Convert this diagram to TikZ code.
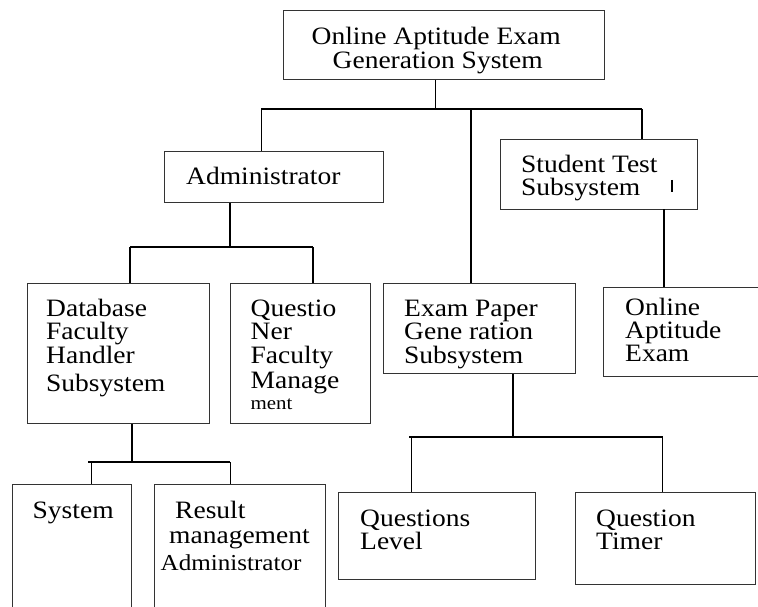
\documentclass[tikz,border=0pt]{standalone}
\usepackage{fontspec}
\setmainfont{Liberation Serif}[FakeStretch=1.1]
\newcommand{\row}[1]{\hbox{#1}}

\begin{document}
\begin{tikzpicture}[x=1pt,y=-1pt,
		box/.style={draw=black!80,line width=1pt,inner sep=0pt,anchor=north west},
		txt/.style={inner sep=0pt,anchor=base west,font={\fontsize{25}{23.2}\selectfont\lineskiplimit=-100pt}},
		bus/.style={line width=2pt},
		link/.style={line width=1pt}]

		\useasboundingbox (0,0) rectangle (758,607);

		% boxes
		\node[box,minimum width=321pt,minimum height=69pt] (sys) at (283,10) {};
		\node[box,minimum width=219pt,minimum height=51pt] (admin) at (164,151) {};
		\node[box,minimum width=197pt,minimum height=70pt] (student) at (500,139) {};
		\node[box,minimum width=182pt,minimum height=140pt] (db) at (27,283) {};
		\node[box,minimum width=140pt,minimum height=140pt] (qf) at (230,283) {};
		\node[box,minimum width=192pt,minimum height=90pt] (exam) at (383,283) {};
		\node[box,minimum width=157pt,minimum height=89pt] (online) at (603,287) {};
		\node[box,minimum width=119pt,minimum height=140pt] (system) at (12,484) {};
		\node[box,minimum width=171pt,minimum height=140pt] (result) at (154,484) {};
		\node[box,minimum width=197pt,minimum height=87pt] (qlevel) at (338,492) {};
		\node[box,minimum width=180pt,minimum height=92pt] (qtimer) at (575,492) {};

		% texts
		\node[txt] (sys-t) at (311.5,45) {\vtop{\row{Online Aptitude Exam}\row{\hskip21pt Generation System}}};
		\node[txt] (admin-t) at (186,185) {Administrator};
		\node[txt] (student-t) at (521,172) {\vtop{\row{Student Test}\row{Subsystem}}};
		\node[txt] (db-t) at (46,316.7) {\vtop{\row{Database}\row{Faculty}\row{Handler}\vskip5.5pt\row{Subsystem}}};
		\node[txt] (qf-t) at (250.5,316.7) {\vtop{\row{Questio}\row{Ner}\row{Faculty}\vskip2.3pt\row{Manage}\vskip-2.7pt\row{\fontsize{19}{19}\selectfont ment}}};
		\node[txt] (exam-t) at (404,316.7) {\vtop{\row{Exam Paper}\row{Gene ration}\row{Subsystem}}};
		\node[txt] (online-t) at (625,315.5) {\vtop{\row{Online}\row{Aptitude}\row{Exam}}};
		\node[txt] (system-t) at (32.5,518) {System};
		\node[txt] (result-t) at (160.5,518) {\vtop{\row{\hskip14.5pt Result}\vskip2pt\row{\hskip8.5pt management}\vskip4pt\row{\fontsize{22.8}{22.8}\selectfont Administrator}}};
		\node[txt] (qlevel-t) at (360,526.7) {\vtop{\row{Questions}\row{Level}}};
		\node[txt] (qtimer-t) at (596,526.7) {\vtop{\row{Question}\row{Timer}}};

		% first level
		\coordinate (top-hub) at (435,109);
		\coordinate (top-l) at (261,109);
		\coordinate (top-m) at (471,109);
		\coordinate (top-r) at (642,109);
		\draw[link] (sys.south -| top-hub) -- (top-hub);
		\draw[bus] (top-l) -- (top-r);
		\draw[link] (top-l) -- (top-l |- admin.north);
		\draw[bus] (top-m) -- (top-m |- exam.north);
		\draw[bus] (top-r) -- (top-r |- student.north);

		% administrator
		\coordinate (adm-m) at (230,247);
		\coordinate (adm-l) at (130,247);
		\coordinate (adm-r) at (313,247);
		\draw[bus] (admin.south -| adm-m) -- (adm-m);
		\draw[bus] (adm-l) -- (adm-r);
		\draw[bus] (adm-l) -- (adm-l |- db.north);
		\draw[bus] (adm-r) -- (adm-r |- qf.north);

		% student test
		\coordinate (stu-m) at (664,209);
		\draw[bus] (stu-m) -- (stu-m |- online.north);
		\draw[bus] (672,180) -- (672,192);

		% database handler
		\coordinate (db-m) at (132,462);
		\coordinate (db-l) at (88,462);
		\coordinate (db-dl) at (91,462);
		\coordinate (db-r) at (230,462);
		\draw[bus] (db.south -| db-m) -- (db-m);
		\draw[bus] (db-l) -- (db-r);
		\draw[link] (db-dl) -- (db-dl |- system.north);
		\draw[link] (db-r) -- (db-r |- result.north);

		% exam paper
		\coordinate (ex-m) at (512.6,437);
		\coordinate (ex-l) at (409,437);
		\coordinate (ex-dl) at (411,437);
		\coordinate (ex-r) at (662.5,437);
		\draw[bus] (exam.south -| ex-m) -- (ex-m);
		\draw[bus] (ex-l) -- (ex-r);
		\draw[link] (ex-dl) -- (ex-dl |- qlevel.north);
		\draw[link] (ex-r) -- (ex-r |- qtimer.north);
	\end{tikzpicture}
\end{document}
